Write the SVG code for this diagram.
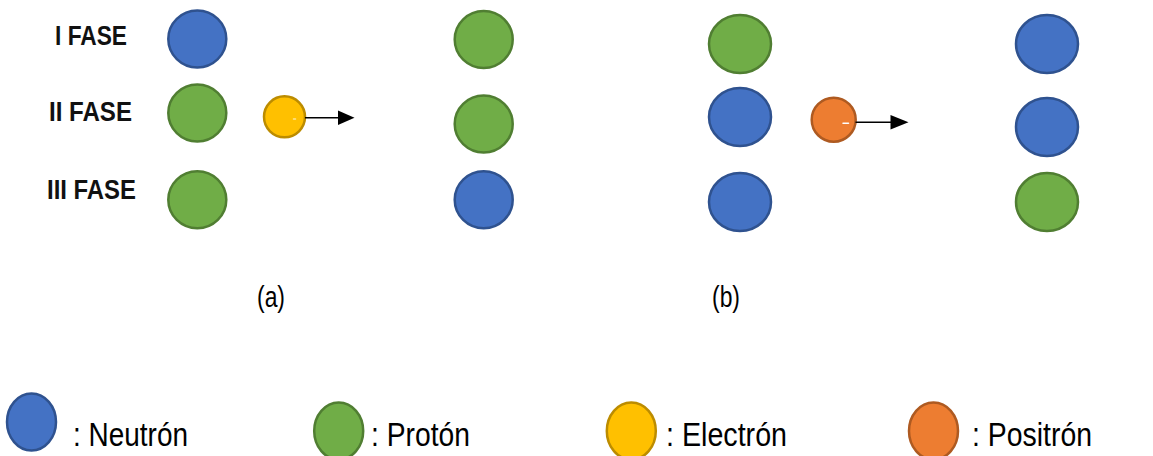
<svg xmlns="http://www.w3.org/2000/svg" width="1153" height="456" viewBox="0 0 1153 456">
  <style>
    .neutron { fill: #4472C4; stroke: #2F528F; stroke-width: 2.5; }
    .proton { fill: #70AD47; stroke: #507E32; stroke-width: 2.5; }
    .electron { fill: #FFC000; stroke: #BC8C00; stroke-width: 2.5; }
    .positron { fill: #ED7D31; stroke: #AE5A21; stroke-width: 2.5; }
    .phase { font-family: "Liberation Sans", Arial, sans-serif; font-weight: bold; font-size: 27px; fill: #111; }
    .caption { font-family: "Liberation Sans", Arial, sans-serif; font-size: 30px; fill: #000; }
    .legend { font-family: "Liberation Sans", Arial, sans-serif; font-size: 33px; fill: #000; }
    .conn { stroke: #000; stroke-width: 1.6; fill: none; }
    .spark { stroke: #fff; stroke-width: 1.5; stroke-linecap: round; }
  </style>

  <!-- phase labels -->
  <g id="phase-labels">
    <text class="phase" x="55" y="44.5" textLength="72" lengthAdjust="spacingAndGlyphs">I FASE</text>
    <text class="phase" x="49" y="121" textLength="83" lengthAdjust="spacingAndGlyphs">II FASE</text>
    <text class="phase" x="47" y="198.5" textLength="89" lengthAdjust="spacingAndGlyphs">III FASE</text>
  </g>

  <!-- (a) beta-minus: before -->
  <g id="a-before">
    <ellipse class="neutron" cx="197.3" cy="39" rx="29" ry="28.5"/>
    <ellipse class="proton" cx="197.3" cy="113" rx="29" ry="28.5"/>
    <ellipse class="proton" cx="197.3" cy="199.7" rx="29" ry="28.5"/>
  </g>

  <!-- (a) emitted electron -->
  <g id="a-electron">
    <circle class="electron" cx="284.5" cy="116.8" r="20.5"/>
    <line class="spark" x1="293.5" y1="119" x2="295.5" y2="119" opacity="0.6"/>
  </g>

  <!-- (a) beta-minus: after -->
  <g id="a-after">
    <ellipse class="proton" cx="483.7" cy="39.5" rx="29" ry="28.5"/>
    <ellipse class="proton" cx="483.7" cy="124" rx="29" ry="28.5"/>
    <ellipse class="neutron" cx="483.7" cy="199.7" rx="29" ry="28.5"/>
  </g>

  <!-- (b) beta-plus: before -->
  <g id="b-before">
    <ellipse class="proton" cx="740" cy="44" rx="31" ry="29"/>
    <ellipse class="neutron" cx="740" cy="117" rx="31" ry="29"/>
    <ellipse class="neutron" cx="740" cy="202" rx="31" ry="29"/>
  </g>

  <!-- (b) emitted positron -->
  <g id="b-positron">
    <circle class="positron" cx="833.7" cy="119.7" r="22"/>
    <line class="spark" x1="843" y1="123.3" x2="848.5" y2="123.3"/>
  </g>

  <!-- (b) beta-plus: after -->
  <g id="b-after">
    <ellipse class="neutron" cx="1047" cy="44" rx="31" ry="29"/>
    <ellipse class="neutron" cx="1047" cy="127" rx="31" ry="29"/>
    <ellipse class="proton" cx="1047" cy="202" rx="31" ry="29"/>
  </g>

  <!-- emission arrows -->
  <g id="connectors">
    <line class="conn" x1="305" y1="117.7" x2="340" y2="117.7"/>
    <polygon points="338,110.5 354.5,117.7 338,125" fill="#000"/>
    <line class="conn" x1="855.5" y1="122.3" x2="892" y2="122.3"/>
    <polygon points="890.5,115 908.5,122.3 890.5,129.5" fill="#000"/>
  </g>

  <!-- panel captions -->
  <g id="captions">
    <text class="caption" x="257" y="307" textLength="28" lengthAdjust="spacingAndGlyphs">(a)</text>
    <text class="caption" x="712" y="307" textLength="28" lengthAdjust="spacingAndGlyphs">(b)</text>
  </g>

  <!-- legend -->
  <g id="legend-neutron">
    <ellipse class="neutron" cx="31.5" cy="422" rx="24.5" ry="28.5"/>
    <text class="legend" x="73" y="446" textLength="115" lengthAdjust="spacingAndGlyphs">: Neutrón</text>
  </g>
  <g id="legend-proton">
    <ellipse class="proton" cx="338.7" cy="431" rx="24.5" ry="28.5"/>
    <text class="legend" x="371" y="446" textLength="99" lengthAdjust="spacingAndGlyphs">: Protón</text>
  </g>
  <g id="legend-electron">
    <ellipse class="electron" cx="631.3" cy="431" rx="24.5" ry="28.5"/>
    <text class="legend" x="666" y="446" textLength="121" lengthAdjust="spacingAndGlyphs">: Electrón</text>
  </g>
  <g id="legend-positron">
    <ellipse class="positron" cx="933.5" cy="431" rx="24.5" ry="28.5"/>
    <text class="legend" x="972" y="446" textLength="120" lengthAdjust="spacingAndGlyphs">: Positrón</text>
  </g>
</svg>
